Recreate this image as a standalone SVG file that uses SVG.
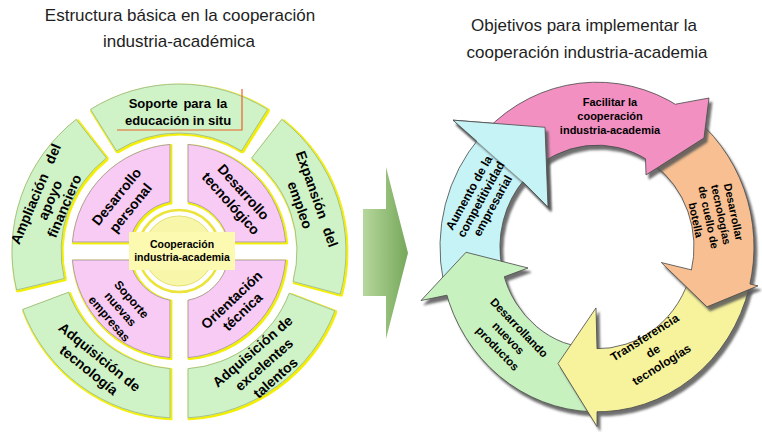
<svg xmlns="http://www.w3.org/2000/svg" width="762" height="432" viewBox="0 0 762 432">
<defs>
<style>
.title{font-family:"Liberation Sans",Arial,sans-serif;font-size:17px;fill:#1e1e1e;text-anchor:middle}
.lb{font-family:"Liberation Sans",Arial,sans-serif;font-weight:bold;fill:#000;text-anchor:middle}
.seg{fill:#cff3c6;stroke:#8fb58c;stroke-width:0.8}
.pk{fill:#f7cbf3;stroke:#9d8a9b;stroke-width:0.8}
.arw{stroke:#4a4a4a;stroke-width:0.8;stroke-linejoin:round}
</style>
<filter id="yg" x="-15%" y="-15%" width="130%" height="130%">
<feMorphology in="SourceAlpha" operator="dilate" radius="1.3" result="d"/>
<feOffset in="d" dx="1.3" dy="1.3" result="o"/>
<feFlood flood-color="#f2ee00"/>
<feComposite in2="o" operator="in" result="y"/>
<feGaussianBlur in="y" stdDeviation="0.5" result="yb"/>
<feMerge><feMergeNode in="yb"/><feMergeNode in="SourceGraphic"/></feMerge>
</filter>
<filter id="sh" x="-20%" y="-20%" width="140%" height="140%">
<feDropShadow dx="3" dy="4" stdDeviation="1.2" flood-color="#555" flood-opacity="0.85"/>
</filter>
<linearGradient id="gA" x1="363" y1="0" x2="408" y2="0" gradientUnits="userSpaceOnUse">
<stop offset="0" stop-color="#b6d79c"/><stop offset="1" stop-color="#76a85a"/>
</linearGradient>
</defs>
<rect width="762" height="432" fill="#fff"/>

<g id="title-left">
<text class="title" x="180" y="21">Estructura básica en la cooperación</text>
<text class="title" x="179" y="47">industria-académica</text>
</g>
<g id="title-right">
<text class="title" x="584" y="31">Objetivos para implementar la</text>
<text class="title" x="587" y="58">cooperación industria-academia</text>
</g>

<!-- left: outer ring -->
<g id="ampliacion">
<path class="seg" filter="url(#yg)" d="M16.6 290 A167 167 0 0 1 76.2 119.4 L106.4 158 A118 118 0 0 0 64.3 278.5 Z"/>
<g transform="translate(50,200) rotate(-67)"><text class="lb" font-size="14"><tspan x="0" y="-10.6" word-spacing="8">Ampliación del</tspan><tspan x="0" y="4.9">apoyo</tspan><tspan x="0" y="20.4">financiero</tspan></text></g>
</g>
<g id="soporte-educacion">
<path class="seg" filter="url(#yg)" d="M90.5 109.4 A167 167 0 0 1 267.5 109.4 L241.5 150.9 A118 118 0 0 0 116.5 150.9 Z"/>
<polyline points="117,130 242,130 242,89" fill="none" stroke="#e8632a" stroke-width="1.2"/>
<text class="lb" font-size="13"><tspan x="178" y="107.5" word-spacing="2">Soporte para la</tspan><tspan x="178" y="124.5">educación in situ</tspan></text>
</g>
<g id="expansion">
<path class="seg" filter="url(#yg)" d="M281.8 119.4 A167 167 0 0 1 340.3 294.2 L293 281.5 A118 118 0 0 0 251.6 158 Z"/>
<g transform="translate(308.5,202) rotate(70.6)"><text class="lb" font-size="14"><tspan x="0" y="-4.1" word-spacing="6">Expansión del</tspan><tspan x="0" y="13.9">empleo</tspan></text></g>
</g>
<g id="excelentes">
<path class="seg" filter="url(#yg)" d="M334.9 310.8 A167 167 0 0 1 188 417.8 L188 368.7 A118 118 0 0 0 289.2 293.3 Z"/>
<g transform="translate(264,364.5) rotate(-41)"><text class="lb" font-size="14"><tspan x="0" y="-12.6">Adquisición de</tspan><tspan x="0" y="4.9">excelentes</tspan><tspan x="0" y="22.4">talentos</tspan></text></g>
</g>
<g id="tecnologia">
<path class="seg" filter="url(#yg)" d="M170 417.8 A167 167 0 0 1 22.6 309.5 L68.5 292.3 A118 118 0 0 0 170 368.7 Z"/>
<g transform="translate(94.25,363.5) rotate(39)"><text class="lb" font-size="14"><tspan x="0" y="-3.6">Adquisición de</tspan><tspan x="0" y="13.4">tecnología</tspan></text></g>
</g>

<!-- left: pink quadrants -->
<g id="des-personal">
<path class="pk" filter="url(#yg)" d="M72.4 242 A107 107 0 0 1 170 144.4 L170 201.8 A50 50 0 0 0 129.8 242 Z"/>
<g transform="translate(123.5,202.25) rotate(-51)"><text class="lb" font-size="14"><tspan x="0" y="-4.1">Desarrollo</tspan><tspan x="0" y="13.9">personal</tspan></text></g>
</g>
<g id="des-tecnologico">
<path class="pk" filter="url(#yg)" d="M188 144.4 A107 107 0 0 1 285.6 242 L228.2 242 A50 50 0 0 0 188 201.8 Z"/>
<g transform="translate(237.25,197.75) rotate(48)"><text class="lb" font-size="14"><tspan x="0" y="-3.6">Desarrollo</tspan><tspan x="0" y="13.4">tecnológico</tspan></text></g>
</g>
<g id="orientacion">
<path class="pk" filter="url(#yg)" d="M285.6 260 A107 107 0 0 1 188 357.6 L188 300.2 A50 50 0 0 0 228.2 260 Z"/>
<g transform="translate(237,305.75) rotate(-43)"><text class="lb" font-size="14"><tspan x="0" y="-3.1">Orientación</tspan><tspan x="0" y="12.9">técnica</tspan></text></g>
</g>
<g id="soporte-empresas">
<path class="pk" filter="url(#yg)" d="M170 357.6 A107 107 0 0 1 72.4 260 L129.8 260 A50 50 0 0 0 170 300.2 Z"/>
<g transform="translate(120.5,309) rotate(49)"><text class="lb" font-size="12"><tspan x="0" y="-10.5">Soporte</tspan><tspan x="0" y="4.2">nuevas</tspan><tspan x="0" y="18.9">empresas</tspan></text></g>
</g>

<g id="centro">
<circle cx="179" cy="251" r="41" fill="#fff" stroke="#ece43a" stroke-width="2.5"/>
<circle cx="179" cy="251" r="35" fill="#f8f6a8" stroke="#e6e070" stroke-width="1"/>
<rect x="129" y="232" width="106" height="38" fill="#fcf9b0"/>
<text class="lb" font-size="10.5" fill="#222"><tspan x="182" y="248">Cooperación</tspan><tspan x="182" y="261">industria-academia</tspan></text>
</g>

<g id="flecha-central">
<polygon points="363,209 386,209 386,167 408,253 386,339 386,296 363,296" fill="url(#gA)"/>
</g>

<!-- right: cycle -->
<g id="connectors" transform="translate(0,-12.35) scale(1,1.05)">
<g id="arrow-cyan-body" filter="url(#sh)"><path class="arw" fill="#c6f4f6" d="M443.4 279.6 A157 157 0 0 1 480.3 142 L524.9 182.1 A97 97 0 0 0 502.1 267.2 Z"/>
<path class="arw" fill="#c6f4f6" d="M476.7 146.1 L453 126.2 L545 133 L548 209 L522.7 184.7"/></g>
<g id="arrow-green" filter="url(#sh)"><path class="arw" fill="#c8f1c0" d="M591.5 403.9 A157 157 0 0 1 445.3 287.6 L503.3 272.1 A97 97 0 0 0 593.6 343.9 Z"/>
<path class="arw" fill="#c8f1c0" d="M446.9 292.9 L421 298 L466 252 L528 267 L504.2 275.4"/></g>
<g id="arrow-yellow" filter="url(#sh)"><path class="arw" fill="#f7f39c" d="M749.3 285 A157 157 0 0 1 591.5 403.9 L593.6 343.9 A97 97 0 0 0 691.1 270.5 Z"/>
<path class="arw" fill="#f7f39c" d="M597 404 L597 418 L558 358 L596 305 L597 344"/></g>
<g id="arrow-orange" filter="url(#sh)"><path class="arw" fill="#f8c092" d="M687.1 118.4 A157 157 0 0 1 749.3 285 L691.1 270.5 A97 97 0 0 0 652.6 167.5 Z"/>
<path class="arw" fill="#f8c092" d="M750 282.3 L758 284 L707 304 L661.3 261.8 L691.5 268.8"/></g>
<g id="arrow-pink" filter="url(#sh)"><path class="arw" fill="#f290c2" d="M486 136 A157 157 0 0 1 680.2 113.9 L648.4 164.7 A97 97 0 0 0 528.4 178.4 Z"/>
<path class="arw" fill="#f290c2" d="M675.5 111 L709 105.1 L704 143.2 L646 178.4 L645.5 163"/></g>
<g id="arrow-cyan-head" filter="url(#sh)"><path class="arw" fill="#c6f4f6" d="M476.7 146.1 L453 126.2 L545 133 L548 209 L522.7 184.7"/></g>
</g>

<g id="obj-facilitar"><text class="lb" font-size="11"><tspan x="610" y="105.5">Facilitar la</tspan><tspan x="610" y="119.5">cooperación</tspan><tspan x="610" y="134">industria-academia</tspan></text></g>
<g id="obj-desarrollar" transform="translate(714.75,216) rotate(78)"><text class="lb" font-size="11"><tspan x="0" y="-15.5">Desarrollar</tspan><tspan x="0" y="-2.6">tecnologías</tspan><tspan x="0" y="10.2">de cuello de</tspan><tspan x="0" y="23.1">botella</tspan></text></g>
<g id="obj-transferencia" transform="translate(653,351) rotate(-32)"><text class="lb" font-size="12"><tspan x="0" y="-11.8">Transferencia</tspan><tspan x="0" y="4.2">de</tspan><tspan x="0" y="20.2">tecnologías</tspan></text></g>
<g id="obj-productos" transform="translate(508.5,338) rotate(46)"><text class="lb" font-size="11.5"><tspan x="0" y="-10.8">Desarrollando</tspan><tspan x="0" y="4.2">nuevos</tspan><tspan x="0" y="19.2">productos</tspan></text></g>
<g id="obj-competitividad" transform="translate(480.75,199.25) rotate(-61)"><text class="lb" font-size="12"><tspan x="0" y="-9.3">Aumento de la</tspan><tspan x="0" y="4.2">competitividad</tspan><tspan x="0" y="17.7">empresarial</tspan></text></g>
</svg>
